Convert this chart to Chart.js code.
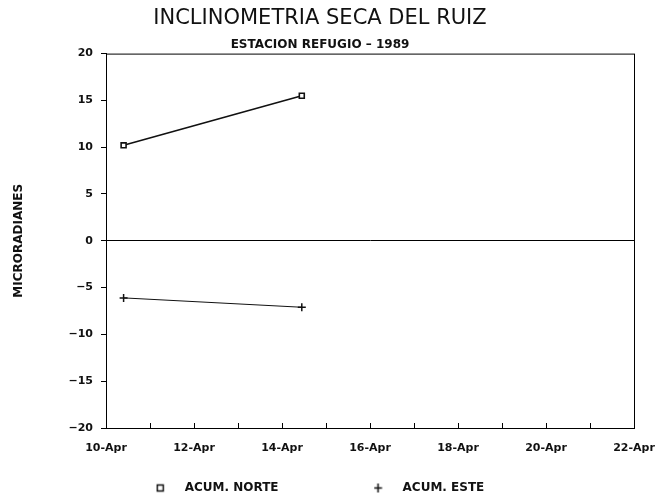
<!DOCTYPE html>
<html><head><meta charset="utf-8">
<script src="https://cdn.jsdelivr.net/npm/chart.js@4/dist/chart.umd.min.js"></script>
<style>html,body{margin:0;padding:0;background:#fff}#wrap{width:666px;height:503px}</style>
</head><body><div id="wrap"><canvas id="c" width="666" height="503"></canvas></div>
<script>
// day offsets from 10-Apr-1989
const norteDays = [0.4, 4.45];
const norteValues = [10.2, 15.5];
const esteDays = [0.4, 4.45];
const esteValues = [-6.1, -7.1];
const xTickLabels = ['10-Apr','12-Apr','14-Apr','16-Apr','18-Apr','20-Apr','22-Apr'];
const seriesNames = ['ACUM. NORTE', 'ACUM. ESTE'];

const FONT = "'DejaVu Sans', 'Liberation Sans', sans-serif";
const LEGEND_PAD = 95;
const MARK_W = 23;

function legendMarker(kind) {
  const c = document.createElement('canvas');
  c.width = MARK_W; c.height = 11;
  const g = c.getContext('2d');
  g.strokeStyle = '#111'; g.lineWidth = 1.5;
  if (kind === 'rect') {
    g.strokeRect(1.5, 2.5, 6, 6);
  } else {
    g.beginPath();
    g.moveTo(4.5, 1); g.lineTo(4.5, 10);
    g.moveTo(0.5, 5.5); g.lineTo(8.5, 5.5);
    g.stroke();
  }
  return c;
}
const markers = [legendMarker('rect'), legendMarker('cross')];

const framePlugin = {
  id: 'frame',
  afterLayout(chart) {
    if (chart.legend) {
      chart.legend.top = 482 - LEGEND_PAD;
      chart.legend.bottom = 503;
      chart.legend.height = chart.legend.bottom - chart.legend.top;
    }
  },
  afterDraw(chart) {
    const {ctx, chartArea: a, scales: {x}} = chart;
    ctx.save();
    ctx.strokeStyle = '#000';
    ctx.lineWidth = 1;
    ctx.strokeRect(a.left + 0.5, a.top + 0.5, a.right - a.left, a.bottom - a.top);
    for (let d = 1; d < 12; d++) {
      const px = Math.round(x.getPixelForValue(d)) + 0.5;
      ctx.beginPath();
      ctx.moveTo(px, a.bottom);
      ctx.lineTo(px, a.bottom - 5);
      ctx.stroke();
    }
    ctx.restore();
  }
};

new Chart(document.getElementById('c'), {
  type: 'line',
  data: {
    datasets: [
      {
        label: seriesNames[0],
        data: norteDays.map((d, i) => ({x: d, y: norteValues[i]})),
        borderColor: '#111', backgroundColor: '#fff', borderWidth: 1.6,
        pointStyle: 'rect', pointRadius: 3.5, pointBorderColor: '#111', pointBorderWidth: 1.6,
        pointBackgroundColor: '#fff'
      },
      {
        label: seriesNames[1],
        data: esteDays.map((d, i) => ({x: d, y: esteValues[i]})),
        borderColor: '#111', backgroundColor: '#111', borderWidth: 1,
        pointStyle: 'cross', pointRadius: 4, pointBorderColor: '#111', pointBorderWidth: 1.5
      }
    ]
  },
  options: {
    responsive: false,
    animation: false,
    layout: {padding: {left: 6, right: 32, top: 0, bottom: 0}},
    plugins: {
      title: {
        display: true, text: 'INCLINOMETRIA SECA DEL RUIZ', color: '#111',
        font: {family: FONT, size: 21, weight: 'normal'},
        padding: {top: 6, bottom: 3}
      },
      subtitle: {
        display: true, text: 'ESTACION REFUGIO – 1989', color: '#111',
        font: {family: FONT, size: 12, weight: 'bold'},
        padding: {top: 3, bottom: 2}
      },
      legend: {
        position: 'bottom',
        maxHeight: 30,
        labels: {
          color: '#111', usePointStyle: true, pointStyleWidth: MARK_W, boxHeight: 11,
          font: {family: FONT, size: 12, weight: 'bold'}, padding: LEGEND_PAD,
          generateLabels(chart) {
            const items = Chart.defaults.plugins.legend.labels.generateLabels(chart);
            items.forEach((it, i) => { it.pointStyle = markers[i]; });
            return items;
          }
        }
      },
      tooltip: {enabled: false}
    },
    scales: {
      x: {
        type: 'linear', min: 0, max: 12,
        afterFit(s) { s.height = 45; },
        border: {display: true, color: '#000', width: 1},
        grid: {display: false},
        ticks: {
          stepSize: 1, autoSkip: false, maxRotation: 0, color: '#111', padding: 6,
          font: {family: FONT, size: 11, weight: 'bold'},
          callback: (v) => (v % 2 === 0 ? xTickLabels[v / 2] : '')
        }
      },
      y: {
        min: -20, max: 20,
        afterFit(s) { s.width = 100; },
        border: {display: true, color: '#000', width: 1},
        grid: {
          drawOnChartArea: true, drawTicks: true, tickLength: 5,
          color: (c) => (c.tick && c.tick.value === 0 ? '#000' : 'rgba(0,0,0,0)'),
          tickColor: '#000'
        },
        ticks: {
          stepSize: 5, color: '#111', padding: 8,
          font: {family: FONT, size: 11, weight: 'bold'},
          callback: (v) => (v < 0 ? '−' + Math.abs(v) : String(v))
        },
        title: {
          display: true, text: 'MICRORADIANES', color: '#111',
          font: {family: FONT, size: 12, weight: 'bold'}, padding: {top: 6, bottom: 0}
        }
      }
    }
  },
  plugins: [framePlugin]
});
</script></body></html>
